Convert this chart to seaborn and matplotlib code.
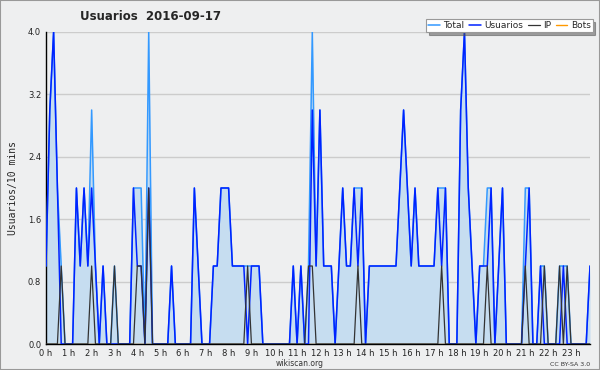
import matplotlib
matplotlib.use("Agg")

import matplotlib.pyplot as plt
import numpy as np
import pandas as pd
import seaborn as sns
from matplotlib.patches import Rectangle
from matplotlib.ticker import FormatStrFormatter, MultipleLocator

# one value per 10 minutes, 2016-09-17, 00:00 .. 23:50
usuarios = [
    1, 3, 4, 2, 0, 0, 0, 0, 2, 1, 2, 1, 2, 1, 0, 1, 0, 0, 0, 0, 0, 0, 0, 2,
    1, 1, 0, 2, 0, 0, 0, 0, 0, 1, 0, 0, 0, 0, 0, 2, 1, 0, 0, 0, 1, 1, 2, 2,
    2, 1, 1, 1, 1, 0, 1, 1, 1, 0, 0, 0, 0, 0, 0, 0, 0, 1, 0, 1, 0, 0, 3, 1,
    3, 1, 1, 1, 0, 1, 2, 1, 1, 2, 1, 2, 0, 1, 1, 1, 1, 1, 1, 1, 1, 2, 3, 2,
    1, 2, 1, 1, 1, 1, 1, 2, 1, 2, 0, 0, 0, 3, 4, 2, 1, 0, 1, 1, 1, 2, 0, 1,
    2, 0, 0, 0, 0, 0, 1, 2, 0, 0, 1, 0, 0, 0, 0, 0, 1, 0, 0, 0, 0, 0, 0, 1,
]
ip = [
    0, 0, 0, 0, 1, 0, 0, 0, 0, 0, 0, 0, 1, 0, 0, 0, 0, 0, 1, 0, 0, 0, 0, 0,
    1, 1, 0, 2, 0, 0, 0, 0, 0, 0, 0, 0, 0, 0, 0, 0, 0, 0, 0, 0, 0, 0, 0, 0,
    0, 0, 0, 0, 0, 1, 0, 0, 0, 0, 0, 0, 0, 0, 0, 0, 0, 0, 0, 0, 0, 1, 1, 0,
    0, 0, 0, 0, 0, 0, 0, 0, 0, 0, 1, 0, 0, 0, 0, 0, 0, 0, 0, 0, 0, 0, 0, 0,
    0, 0, 0, 0, 0, 0, 0, 0, 1, 0, 0, 0, 0, 0, 0, 0, 0, 0, 0, 0, 1, 0, 0, 0,
    0, 0, 0, 0, 0, 0, 1, 0, 0, 0, 0, 1, 0, 0, 0, 1, 0, 1, 0, 0, 0, 0, 0, 0,
]
total = [
    1, 3, 4, 2, 1, 0, 0, 0, 2, 1, 2, 1, 3, 1, 0, 1, 0, 0, 1, 0, 0, 0, 0, 2,
    2, 2, 0, 4, 0, 0, 0, 0, 0, 1, 0, 0, 0, 0, 0, 2, 1, 0, 0, 0, 1, 1, 2, 2,
    2, 1, 1, 1, 1, 1, 1, 1, 1, 0, 0, 0, 0, 0, 0, 0, 0, 1, 0, 1, 0, 1, 4, 1,
    3, 1, 1, 1, 0, 1, 2, 1, 1, 2, 2, 2, 0, 1, 1, 1, 1, 1, 1, 1, 1, 2, 3, 2,
    1, 2, 1, 1, 1, 1, 1, 2, 2, 2, 0, 0, 0, 3, 4, 2, 1, 0, 1, 1, 2, 2, 0, 1,
    2, 0, 0, 0, 0, 0, 2, 2, 0, 0, 1, 1, 0, 0, 0, 1, 1, 1, 0, 0, 0, 0, 0, 1,
]
bots = [
    0, 0, 0, 0, 0, 0, 0, 0, 0, 0, 0, 0, 0, 0, 0, 0, 0, 0, 0, 0, 0, 0, 0, 0,
    0, 0, 0, 0, 0, 0, 0, 0, 0, 0, 0, 0, 0, 0, 0, 0, 0, 0, 0, 0, 0, 0, 0, 0,
    0, 0, 0, 0, 0, 0, 0, 0, 0, 0, 0, 0, 0, 0, 0, 0, 0, 0, 0, 0, 0, 0, 0, 0,
    0, 0, 0, 0, 0, 0, 0, 0, 0, 0, 0, 0, 0, 0, 0, 0, 0, 0, 0, 0, 0, 0, 0, 0,
    0, 0, 0, 0, 0, 0, 0, 0, 0, 0, 0, 0, 0, 0, 0, 0, 0, 0, 0, 0, 0, 0, 0, 0,
    0, 0, 0, 0, 0, 0, 0, 0, 0, 0, 0, 0, 0, 0, 0, 0, 0, 0, 0, 0, 0, 0, 0, 0,
]
hour_labels = [
    "0 h", "1 h", "2 h", "3 h", "4 h", "5 h", "6 h", "7 h", "8 h", "9 h",
    "10 h", "11 h", "12 h", "13 h", "14 h", "15 h", "16 h", "17 h", "18 h",
    "19 h", "20 h", "21 h", "22 h", "23 h",
]

BG = "#eeeff0"

df = pd.DataFrame({
    "hour": np.arange(len(usuarios)) / 6.0,
    "Total": total,
    "Usuarios": usuarios,
    "IP": ip,
    "Bots": bots,
})

sns.set_style("white")
plt.rcParams["font.family"] = ["DejaVu Sans"]

fig = plt.figure(figsize=(6, 3.7), dpi=100, facecolor=BG)
ax = fig.add_axes([46 / 600, 1 - 344 / 370, 544 / 600, 312 / 370])
ax.set_facecolor(BG)

ax.fill_between(df["hour"], 0, df["Total"], color="#c6ddf0", lw=0, zorder=1)
sns.lineplot(data=df, x="hour", y="Total", color="#3399ff", lw=1.1,
             label="Total", ax=ax, zorder=3)
sns.lineplot(data=df, x="hour", y="Usuarios", color="#0022ff", lw=1.1,
             label="Usuarios", ax=ax, zorder=4)
sns.lineplot(data=df, x="hour", y="IP", color="#333333", lw=0.9,
             label="IP", ax=ax, zorder=5)
sns.lineplot(data=df, x="hour", y="Bots", color="#ff9900", lw=1.0,
             label="Bots", ax=ax, zorder=2)

ax.set_xlim(0, df["hour"].iloc[-1])
ax.set_ylim(0, 4.0)
ax.set_xticks(np.arange(len(hour_labels)))
ax.set_xticklabels(hour_labels)
ax.xaxis.set_minor_locator(MultipleLocator(1 / 6))
ax.yaxis.set_major_locator(MultipleLocator(0.8))
ax.yaxis.set_minor_locator(MultipleLocator(0.2))
ax.yaxis.set_major_formatter(FormatStrFormatter("%.1f"))
ax.tick_params(axis="both", which="major", labelsize=6, length=3.5,
               width=0.8, color="black", pad=0, labelcolor="#222222")
ax.tick_params(axis="both", which="minor", length=2.5, width=0.8,
               color="black")
ax.grid(axis="y", color="#cccccc", lw=1, zorder=0)
ax.set_axisbelow(True)
for side in ["top", "right"]:
    ax.spines[side].set_visible(False)
for side in ["left", "bottom"]:
    ax.spines[side].set_color("black")
    ax.spines[side].set_linewidth(1)

ax.set_xlabel("")
ax.set_ylabel("Usuarios/10 mins", family="DejaVu Sans Mono", fontsize=7,
              labelpad=7)

leg = ax.legend(ncol=4, loc="lower right", bbox_to_anchor=(1.005, 1.0),
                fontsize=6.5, frameon=True, fancybox=False, shadow=True,
                handlelength=1.3, handletextpad=0.4, columnspacing=0.5,
                borderpad=0.2, borderaxespad=0)
leg.get_frame().set_edgecolor("#999999")
leg.get_frame().set_linewidth(0.8)

fig.text(150 / 600, 1 - 17 / 370, "Usuarios  2016-09-17", ha="center",
         va="center", fontsize=8.5, fontweight="bold")
fig.text(300 / 600, 1 - 364 / 370, "wikiscan.org", ha="center", va="center",
         fontsize=5.5, color="#333333")
fig.text(590 / 600, 1 - 364 / 370, "CC BY-SA 3.0", ha="right", va="center",
         fontsize=4.5, color="#333333")
fig.patches.append(Rectangle((0, 0), 1, 1, transform=fig.transFigure,
                             fill=False, edgecolor="#999999", lw=1.5))

plt.savefig("out.png", dpi=100, facecolor=BG)
plt.close(fig)
